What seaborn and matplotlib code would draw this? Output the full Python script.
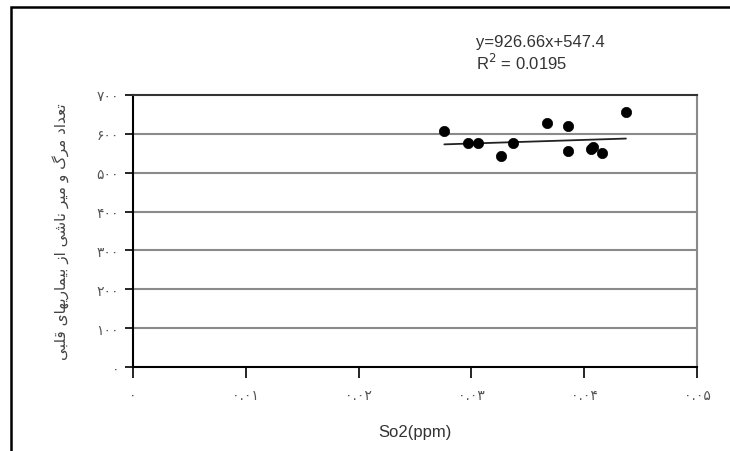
import matplotlib
matplotlib.use("Agg")
import matplotlib.pyplot as plt
import seaborn as sns
import pandas as pd
from matplotlib.patches import Rectangle

# ---- data ----
so2 = [0.0276, 0.0297, 0.0306, 0.0326, 0.0337, 0.0367, 0.0386, 0.0386, 0.0406, 0.0408, 0.0416, 0.0437]
deaths = [608, 577, 577, 542, 577, 627, 620, 557, 560, 566, 552, 656]
slope = 926.66
intercept = 547.4
eq_text = "y=926.66x+547.4"
r2_text = "R$^2$ = 0.0195"
x_ticks = [0, 0.01, 0.02, 0.03, 0.04, 0.05]
x_tick_labels = ["۰", "۰.۰۱", "۰.۰۲", "۰.۰۳", "۰.۰۴", "۰.۰۵"]
y_ticks = [0, 100, 200, 300, 400, 500, 600, 700]
y_tick_labels = ["۰", "۱۰۰", "۲۰۰", "۳۰۰", "۴۰۰", "۵۰۰", "۶۰۰", "۷۰۰"]
x_label = "So2(ppm)"
# "تعداد مرگ و میر ناشی از بیماریهای قلبی" in shaped presentation forms, visual order
y_label_words = [
    "\uFE97\uFECC\uFEAA\uFE8D\uFEA9",          # تعداد
    "\uFEE3\uFEAE\u06AF",                      # مرگ
    "\uFEED",                                  # و
    "\uFEE3\uFEF4\uFEAE",                      # میر
    "\uFEE7\uFE8E\uFEB7\uFEF0",                # ناشی
    "\uFE8D\uFEAF",                            # از
    "\uFE91\uFEF4\uFEE4\uFE8E\uFEAD\uFEF3\uFEEC\uFE8E\uFEEF",  # بیماریهای
    "\uFED7\uFEE0\uFE92\uFEF0",                # قلبی
]
y_label = " ".join(w[::-1] for w in y_label_words[::-1])

df = pd.DataFrame({"so2": so2, "deaths": deaths})
trend = pd.DataFrame({"so2": [min(so2), max(so2)]})
trend["deaths"] = slope * trend["so2"] + intercept

sns.set_theme(style="white")
plt.rcParams['font.family'] = ['DejaVu Sans']

fig = plt.figure(figsize=(7.30, 4.52), dpi=100)
ax = fig.add_axes([133/730, 1-368/452, (697-133)/730, (368-96)/452])

for yv in y_ticks[1:-1]:
    ax.axhline(yv, color="#8a8a8a", lw=1.5, zorder=1)

sns.lineplot(data=trend, x="so2", y="deaths", ax=ax, color="#222222", lw=1.3, zorder=2)
sns.scatterplot(data=df, x="so2", y="deaths", ax=ax, color="black", s=55,
                edgecolor="black", linewidth=0.5, zorder=3)

ax.set_xlim(0, 0.05)
ax.set_ylim(0, 700)
ax.set_xticks(x_ticks)
ax.set_xticklabels(x_tick_labels, fontsize=10, color="#555555")
ax.set_yticks(y_ticks)
ax.set_yticklabels(y_tick_labels, fontsize=10, color="#555555")
ax.tick_params(axis="x", direction="out", length=8, width=1.2, color="black", pad=7, bottom=True)
ax.tick_params(axis="y", direction="out", length=6, width=1.2, color="black", pad=4, left=True)
ax.set_xlabel(x_label, fontsize=12, color="#333333", family=["Liberation Sans"], labelpad=16)
ax.set_ylabel(y_label, fontsize=11, color="#444444", labelpad=20)

for side in ["left", "bottom"]:
    ax.spines[side].set_color("black")
    ax.spines[side].set_linewidth(1.5)
ax.spines["top"].set_color("#333333")
ax.spines["top"].set_linewidth(1.5)
ax.spines["right"].set_color("#8a8a8a")
ax.spines["right"].set_linewidth(1.5)

fig.text(476/730, 1-43/452, eq_text, fontsize=12, color="#333333",
         family=["Liberation Sans"], va="center", ha="left")
fig.text(476/730, 1-63/452, r2_text, fontsize=12, color="#333333",
         family=["Liberation Sans"], va="center", ha="left")

fig.patches.append(Rectangle((11/730, -0.2), 1.2, 1.2 - 8/452, transform=fig.transFigure,
                             fill=False, edgecolor="black", lw=1.8, zorder=0))

fig.savefig("out.png", dpi=100)
